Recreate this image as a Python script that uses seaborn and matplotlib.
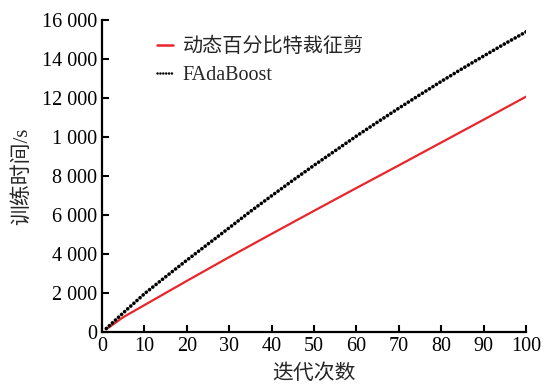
import matplotlib
matplotlib.use("Agg")
import matplotlib.pyplot as plt
import seaborn as sns
import pandas as pd

# Training time (s) versus boosting iteration
iters_red = [1, 5, 10, 20, 30, 40, 50, 60, 70, 80, 90, 100]
time_dynamic = [160, 780, 1400, 2640, 3860, 5050, 6230, 7400, 8560, 9730, 10900, 12080]

iters_black = [1, 5, 10, 15, 20, 25, 30, 35, 40, 45, 50,
               55, 60, 65, 70, 75, 80, 85, 90, 95, 100]
time_fadaboost = [200, 1000, 1980, 2850, 3700, 4530, 5360, 6200, 7000, 7790, 8560,
                  9310, 10060, 10780, 11490, 12180, 12860, 13520, 14160, 14790, 15400]

y_ticks = [0, 2000, 4000, 6000, 8000, 10000, 12000, 14000, 16000]
y_tick_labels = ["0", "2 000", "4 000", "6 000", "8 000", "1 000",
                 "12 000", "14 000", "16 000"]
x_ticks = [0, 10, 20, 30, 40, 50, 60, 70, 80, 90, 100]

name_dynamic = "动态百分比特裁征剪"
name_fada = "FAdaBoost"

sns.set_theme(style="ticks")
plt.rcParams["font.family"] = ["Liberation Serif", "Noto Sans CJK SC", "DejaVu Sans"]
plt.rcParams["axes.unicode_minus"] = False

df_red = pd.DataFrame({"iter": iters_red, "time": time_dynamic})
df_black = pd.DataFrame({"iter": iters_black, "time": time_fadaboost})

fig = plt.figure(figsize=(5.44, 3.87), dpi=100)
ax = fig.add_axes([0.1875, 0.141, 0.7795, 0.807])

sns.lineplot(data=df_red, x="iter", y="time", ax=ax, color="#e8262b",
             linewidth=1.6, label=name_dynamic)
sns.lineplot(data=df_black, x="iter", y="time", ax=ax, color="black",
             linewidth=2.6, linestyle=(0, (0.05, 1.1)),
             dash_capstyle="round", label=name_fada)

ax.set_xlim(0, 100)
ax.set_ylim(0, 16000)
ax.set_xticks(x_ticks)
ax.set_xticklabels([str(v) for v in x_ticks])
ax.set_yticks(y_ticks)
ax.set_yticklabels(y_tick_labels)

ax.tick_params(direction="in", length=5, width=1.5, labelsize=14.5, colors="black")
ax.tick_params(axis="y", pad=3.5)
ax.tick_params(axis="x", pad=3.5)
for side in ["left", "bottom"]:
    ax.spines[side].set_linewidth(1.6)
    ax.spines[side].set_color("black")
sns.despine(ax=ax)

ax.set_xlabel("迭代次数", fontsize=15, labelpad=6)
ax.set_ylabel("训练时间/s", fontsize=15, labelpad=7)

leg = ax.legend(loc="upper left", bbox_to_anchor=(0.11, 0.97), frameon=False,
                fontsize=14.5, handlelength=0.8, handletextpad=0.5,
                labelspacing=0.45, borderaxespad=0)
for h in leg.get_lines():
    h.set_linewidth(1.8)

fig.savefig("out.png", dpi=100)
